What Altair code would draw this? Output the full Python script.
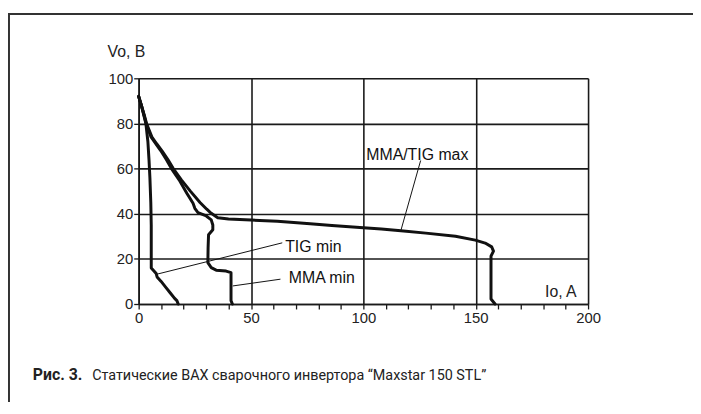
import altair as alt
import pandas as pd

# ---- data ----
tig_min_x = [0, 1.2, 2.2, 3.2, 4.1, 4.6, 5.0, 5.4, 5.6, 5.6, 5.6, 6.5, 7.8, 8.2, 10, 12, 14, 16, 17, 17.6]
tig_min_y = [92, 88, 84, 80, 72, 64, 56, 45, 35, 25, 16, 15, 13.5, 12, 10, 7.5, 5, 2.5, 1.5, 0]

mma_min_x = [0, 1.2, 2.3, 3.3, 5.5, 7.6, 9.8, 12.3, 14.6, 18, 21.5, 24.2, 25, 26.4, 30.1, 32.3, 33, 33,
             31.1, 30.9, 30.8, 32.3, 34.5, 38.9, 41.1, 41.1, 41.7]
mma_min_y = [92, 88, 84, 80, 74, 71, 68, 64, 60, 55, 49, 44.6, 42.4, 40.5, 39, 37.3, 35, 32.9,
             30.7, 25, 18.3, 16.1, 15, 14.6, 13.9, 1.5, 0]

max_x = [0, 1.2, 2.4, 3.5, 5.9, 8, 10.3, 13, 15.4, 19, 23, 27.3, 30.3, 32.3, 35.2, 40, 50, 61.7, 70.5,
         76.3, 86, 100, 108, 116.7, 127.8, 141, 149.8, 154.2, 157.1, 157.9, 156.8, 156.8, 156.8, 158.6]
max_y = [92, 88, 84, 80, 74, 71, 68, 64, 60, 55, 50, 45, 42, 40.2, 38.2, 37.7, 37.2, 36.7, 36,
         35.6, 34.8, 33.8, 33.2, 32.5, 31.4, 30, 28.3, 27, 25.3, 23.4, 21.2, 10, 2.2, 0]

label_text = ["MMA/TIG max", "TIG min", "MMA min"]
label_x = [101.3, 65.2, 66.8]
label_y = [66.2, 25.4, 11.4]
leader_x1 = [125.5, 63.9, 63.1]
leader_y1 = [63.6, 27.1, 11.0]
leader_x2 = [116.7, 8.1, 41.9]
leader_y2 = [32.6, 13.2, 8.0]

x_ticks = list(range(0, 201, 10))
y_ticks = [0, 20, 40, 60, 80, 100]
x_title = "Io, A"
y_title = "Vo, B"
caption_bold = "Рис. 3."
caption_text = "Статические ВАХ сварочного инвертора “Maxstar 150 STL”"

# ---- tables ----
rows = []
for name, xs, ys in [("TIG min", tig_min_x, tig_min_y),
                     ("MMA min", mma_min_x, mma_min_y),
                     ("MMA/TIG max", max_x, max_y)]:
    for i, (a, b) in enumerate(zip(xs, ys)):
        rows.append({"series": name, "i": i, "x": a, "y": b})
curves_df = pd.DataFrame(rows)

lead_rows = []
for k in range(len(label_text)):
    lead_rows.append({"seg": k, "i": 0, "x": leader_x1[k], "y": leader_y1[k]})
    lead_rows.append({"seg": k, "i": 1, "x": leader_x2[k], "y": leader_y2[k]})
lead_df = pd.DataFrame(lead_rows)
labels_df = pd.DataFrame({"t": label_text, "x": label_x, "y": label_y})

W, H = 454, 228
FONT = "Liberation Sans"

xscale = alt.Scale(domain=[0, 200], nice=False, zero=False)
yscale = alt.Scale(domain=[0, 100], nice=False)

x_axis = alt.Axis(
    values=x_ticks,
    labelExpr="datum.value % 50 === 0 ? datum.label : ''",
    grid=True,
    gridOpacity={"condition": {"test": "datum.value % 50 === 0", "value": 1}, "value": 0},
    gridColor="#1a1a1a", gridWidth=1.6,
    domainColor="#1a1a1a", domainWidth=1.6,
    tickColor="#1a1a1a", tickWidth=1.3, tickSize=5,
    labelFont=FONT, labelFontSize=15, labelColor="#222", labelPadding=2,
    labelOverlap=False, labelBound=False, labelFlush=False,
    title=x_title, titleFont=FONT, titleFontSize=16, titleFontWeight="normal", titleColor="#222",
    titleX=442, titleY=-8, titleAlign="right", titleBaseline="alphabetic", titleAngle=0,
)
y_axis = alt.Axis(
    values=y_ticks,
    grid=True, gridColor="#1a1a1a", gridWidth=1.6,
    domainColor="#1a1a1a", domainWidth=1.6,
    tickColor="#1a1a1a", tickWidth=1.3, tickSize=5,
    labelFont=FONT, labelFontSize=15, labelColor="#222", labelPadding=1,
    labelOverlap=False, labelBound=False, labelFlush=False,
    title=y_title, titleFont=FONT, titleFontSize=16, titleFontWeight="normal", titleColor="#222",
    titleX=-32, titleY=-22, titleAlign="left", titleBaseline="alphabetic", titleAngle=0,
)

X = alt.X("x:Q", scale=xscale, axis=x_axis)
Y = alt.Y("y:Q", scale=yscale, axis=y_axis)

curves = alt.Chart(curves_df).mark_line(
    strokeWidth=3, color="#111", strokeJoin="round", strokeCap="round"
).encode(x=X, y=Y, detail="series:N", order="i:Q")

leaders = alt.Chart(lead_df).mark_line(strokeWidth=1, color="#111").encode(
    x=X, y=Y, detail="seg:N", order="i:Q"
)

labels = alt.Chart(labels_df).mark_text(
    align="left", baseline="middle", font=FONT, fontSize=16, color="#111"
).encode(x=X, y=Y, text="t:N")

one = pd.DataFrame({"a": [0]})
frame_left = alt.Chart(one).mark_rule(color="#333", strokeWidth=2).encode(
    x=alt.value(-131), y=alt.value(-66), y2=alt.value(327)
)
frame_top = alt.Chart(one).mark_rule(color="#333", strokeWidth=2).encode(
    x=alt.value(-132), x2=alt.value(560), y=alt.value(-65)
)
cap1 = alt.Chart(pd.DataFrame({"t": [caption_bold]})).mark_text(
    align="left", baseline="alphabetic", font="Roboto", fontSize=16, fontWeight="bold", color="#222"
).encode(x=alt.value(-107), y=alt.value(305), text="t:N")
cap2 = alt.Chart(pd.DataFrame({"t": [caption_text]})).mark_text(
    align="left", baseline="alphabetic", font="Roboto", fontSize=14.5, color="#222"
).encode(x=alt.value(-47), y=alt.value(305), text="t:N")

chart = alt.layer(curves, leaders, labels, frame_left, frame_top, cap1, cap2).properties(
    width=W, height=H,
    autosize=alt.AutoSizeParams(type="none"),
    padding={"left": 132, "top": 69, "right": 106, "bottom": 100},
).configure_view(stroke=None).configure(background="white")

chart.save("out.html", embed_options={"renderer": "svg", "actions": False})
